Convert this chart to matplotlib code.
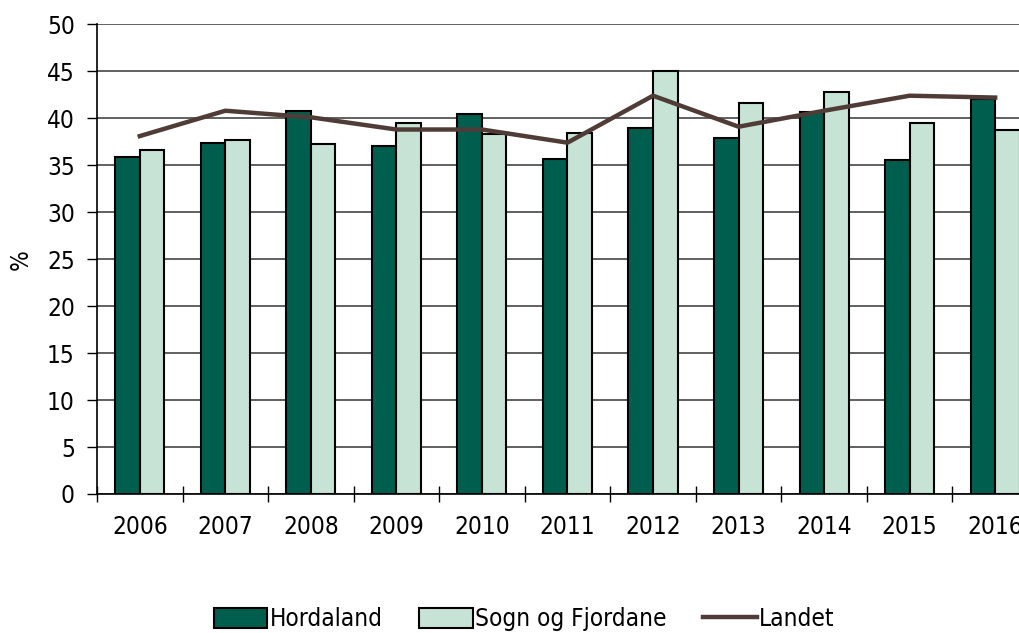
import matplotlib.pyplot as plt
import numpy as np

plt.rcParams['font.family'] = ['DejaVu Sans']
plt.rcParams['font.stretch'] = 'condensed'

years = ['2006', '2007', '2008', '2009', '2010', '2011', '2012', '2013', '2014', '2015', '2016']
hordaland = [35.9, 37.4, 40.8, 37.0, 40.4, 35.7, 39.0, 37.9, 40.7, 35.6, 42.1]
sogn = [36.6, 37.7, 37.3, 39.5, 38.3, 38.4, 45.0, 41.6, 42.8, 39.5, 38.7]
landet = [38.1, 40.8, 40.1, 38.8, 38.8, 37.4, 42.4, 39.1, 40.8, 42.4, 42.2]
yticks = [0, 5, 10, 15, 20, 25, 30, 35, 40, 45, 50]

x = np.arange(len(years))
w = 0.287
fs = 17.5

fig = plt.figure(figsize=(10.2, 6.33), dpi=100)
ax = fig.add_axes([0.0951, 0.2196, 0.9225, 0.742])

b1 = ax.bar(x - w / 2, hordaland, w, color='#005E4E', edgecolor='black', linewidth=1.5,
            label='Hordaland', zorder=3)
b2 = ax.bar(x + w / 2, sogn, w, color='#C6E3D6', edgecolor='black', linewidth=1.5,
            label='Sogn og Fjordane', zorder=3)
l1, = ax.plot(x, landet, color='#4F3C36', linewidth=3.2, label='Landet', zorder=4)

ax.set_xlim(-0.5, len(years) - 0.5)
ax.set_ylim(0, 50)
ax.set_yticks(yticks)
ax.set_yticklabels([str(t) for t in yticks], fontsize=fs)
ax.set_xticks(x)
ax.set_xticklabels(years, fontsize=fs)
ax.set_xticks(np.arange(-0.5, len(years), 1), minor=True)
ax.tick_params(axis='x', which='major', length=0, pad=15)
ax.tick_params(axis='x', which='minor', length=12, width=1, direction='inout')
ax.tick_params(axis='y', length=7, width=1, direction='out', pad=9)

ax.yaxis.grid(True, color='#606060', linewidth=1.4, zorder=0)
ax.set_axisbelow(True)
for s in ['top', 'right']:
    ax.spines[s].set_visible(False)
ax.spines['left'].set_linewidth(1.2)
ax.spines['bottom'].set_linewidth(1.2)

ax.set_ylabel('%', fontsize=fs)
ax.yaxis.set_label_coords(-0.068, 0.5)

fig.legend([b1, b2, l1], ['Hordaland', 'Sogn og Fjordane', 'Landet'],
           loc='center', bbox_to_anchor=(0.514, 0.022), ncol=3, frameon=False,
           fontsize=fs, handlelength=2.2, handleheight=0.9, handletextpad=0.1,
           columnspacing=1.5)

fig.savefig('out.png', dpi=100, facecolor='white')
